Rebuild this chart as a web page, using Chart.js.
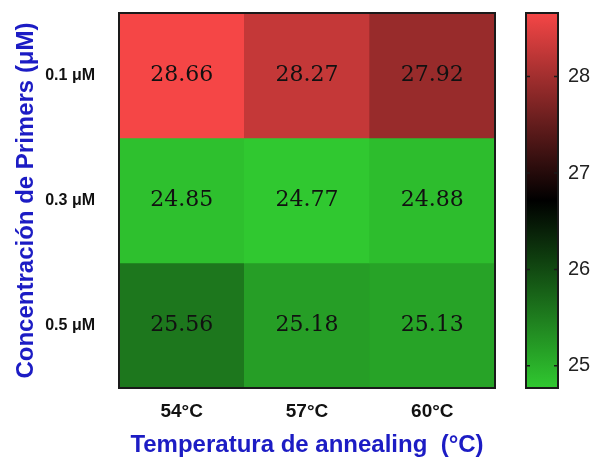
<!DOCTYPE html>
<html>
<head>
<meta charset="utf-8">
<script src="https://cdn.jsdelivr.net/npm/chart.js@4"></script>
<style>
  html, body { margin: 0; padding: 0; background: #ffffff; }
  #wrap { width: 602px; height: 462px; }
</style>
</head>
<body>
<div id="wrap"><canvas id="heatChart" width="602" height="462"></canvas></div>
<script>
// Datos
const temperaturas = ['54°C', '57°C', '60°C'];
const concentraciones = ['0.1 μM', '0.3 μM', '0.5 μM'];
const ctRow01 = [28.66, 28.27, 27.92];
const ctRow03 = [24.85, 24.77, 24.88];
const ctRow05 = [25.56, 25.18, 25.13];
const colorbarTicks = [25, 26, 27, 28];

const filas = [ctRow01, ctRow03, ctRow05];
const allValues = filas.flat();
const vMin = Math.min(...allValues);
const vMax = Math.max(...allValues);

const titleBlue = '#1c1cc4';
const greenEnd = [48, 200, 48];
const redEnd = [245, 70, 70];

// mapa de color verde -> negro -> rojo
function colorFor(v) {
    const mid = (vMin + vMax) / 2;
    let c, t;
    if (v >= mid) { t = (v - mid) / (vMax - mid); c = redEnd; }
    else { t = (mid - v) / (mid - vMin); c = greenEnd; }
    return `rgb(${Math.round(c[0] * t)}, ${Math.round(c[1] * t)}, ${Math.round(c[2] * t)})`;
}

const datasets = filas.map((fila, r) => ({
    label: concentraciones[r],
    data: fila.map(() => [r, r + 1]),
    backgroundColor: fila.map(v => colorFor(v)),
    borderWidth: 0,
    barPercentage: 1,
    categoryPercentage: 1,
    grouped: false,
    yAxisID: 'y'
}));

// tamaño fijo de cada eje, sin el relleno extra de Chart.js
function fixSize(w, h) {
    return function(s) {
        s.paddingTop = 0;
        s.paddingBottom = 0;
        s.paddingLeft = 0;
        s.paddingRight = 0;
        if (w) s.width = w;
        if (h) s.height = h;
    };
}

// valores dentro de cada celda + marco del gráfico + barra de color
const heatPlugin = {
    id: 'heatPlugin',
    afterDatasetsDraw(chart) {
        const ctx = chart.ctx;
        const x = chart.scales.x;
        const y = chart.scales.y;
        const cb = chart.scales.cb;
        const area = chart.chartArea;

        ctx.save();
        ctx.font = '22px "DejaVu Serif"';
        ctx.fillStyle = '#111111';
        ctx.textAlign = 'center';
        ctx.textBaseline = 'middle';
        filas.forEach((fila, r) => {
            fila.forEach((v, c) => {
                ctx.fillText(v.toFixed(2), x.getPixelForValue(c), y.getPixelForValue(r + 0.5));
            });
        });

        ctx.strokeStyle = '#1a1a1a';
        ctx.lineWidth = 2;
        ctx.strokeRect(area.left, area.top, area.right - area.left, area.bottom - area.top);

        // barra de color
        const bx0 = area.right + 31;
        const bx1 = area.right + 63;
        const top = cb.getPixelForValue(vMax);
        const bottom = cb.getPixelForValue(vMin);
        const grad = ctx.createLinearGradient(0, bottom, 0, top);
        const n = 20;
        for (let i = 0; i <= n; i++) {
            const v = vMin + (vMax - vMin) * i / n;
            grad.addColorStop(i / n, colorFor(v));
        }
        ctx.fillStyle = grad;
        ctx.fillRect(bx0, top, bx1 - bx0, bottom - top);
        ctx.strokeRect(bx0, top, bx1 - bx0, bottom - top);

        ctx.lineWidth = 1.5;
        colorbarTicks.forEach(t => {
            const py = cb.getPixelForValue(t);
            ctx.beginPath();
            ctx.moveTo(bx0, py); ctx.lineTo(bx0 + 4, py);
            ctx.moveTo(bx1 - 4, py); ctx.lineTo(bx1, py);
            ctx.stroke();
        });
        ctx.restore();
    }
};

new Chart(document.getElementById('heatChart'), {
    type: 'bar',
    data: { labels: temperaturas, datasets: datasets },
    options: {
        responsive: false,
        animation: false,
        layout: { padding: { top: 13, left: 12, right: 12, bottom: 2 } },
        plugins: { legend: { display: false }, tooltip: { enabled: false } },
        scales: {
            x: {
                type: 'category',
                grid: { display: false, drawTicks: false },
                border: { display: false },
                afterFit: fixSize(0, 72),
                ticks: { color: '#111111', font: { family: 'Liberation Sans', size: 19, weight: 'bold' }, padding: 12 },
                title: {
                    display: true,
                    text: 'Temperatura de annealing  (°C)',
                    color: titleBlue,
                    font: { family: 'Liberation Sans', size: 24, weight: 'bold' },
                    padding: { top: 7, bottom: 0 }
                }
            },
            y: {
                type: 'linear',
                min: 0,
                max: 3,
                reverse: true,
                grid: { display: false, drawTicks: false },
                border: { display: false },
                afterFit: fixSize(107, 0),
                afterBuildTicks: s => { s.ticks = [0.5, 1.5, 2.5].map(v => ({ value: v })); },
                ticks: {
                    color: '#111111',
                    font: { family: 'Liberation Sans', size: 16, weight: 'bold' },
                    padding: 24,
                    callback: v => concentraciones[Math.floor(v)]
                },
                title: {
                    display: true,
                    text: 'Concentración de Primers (μM)',
                    color: titleBlue,
                    font: { family: 'Liberation Sans', size: 24, weight: 'bold' },
                    padding: { top: 0, bottom: 4 }
                }
            },
            cb: {
                type: 'linear',
                position: 'right',
                min: vMin,
                max: vMax,
                grid: { display: false, drawTicks: false },
                border: { display: false },
                afterFit: fixSize(95, 0),
                afterBuildTicks: s => { s.ticks = colorbarTicks.map(v => ({ value: v })); },
                ticks: {
                    color: '#222222',
                    font: { family: 'Liberation Sans', size: 20 },
                    padding: 73
                }
            }
        }
    },
    plugins: [heatPlugin]
});
</script>
</body>
</html>
